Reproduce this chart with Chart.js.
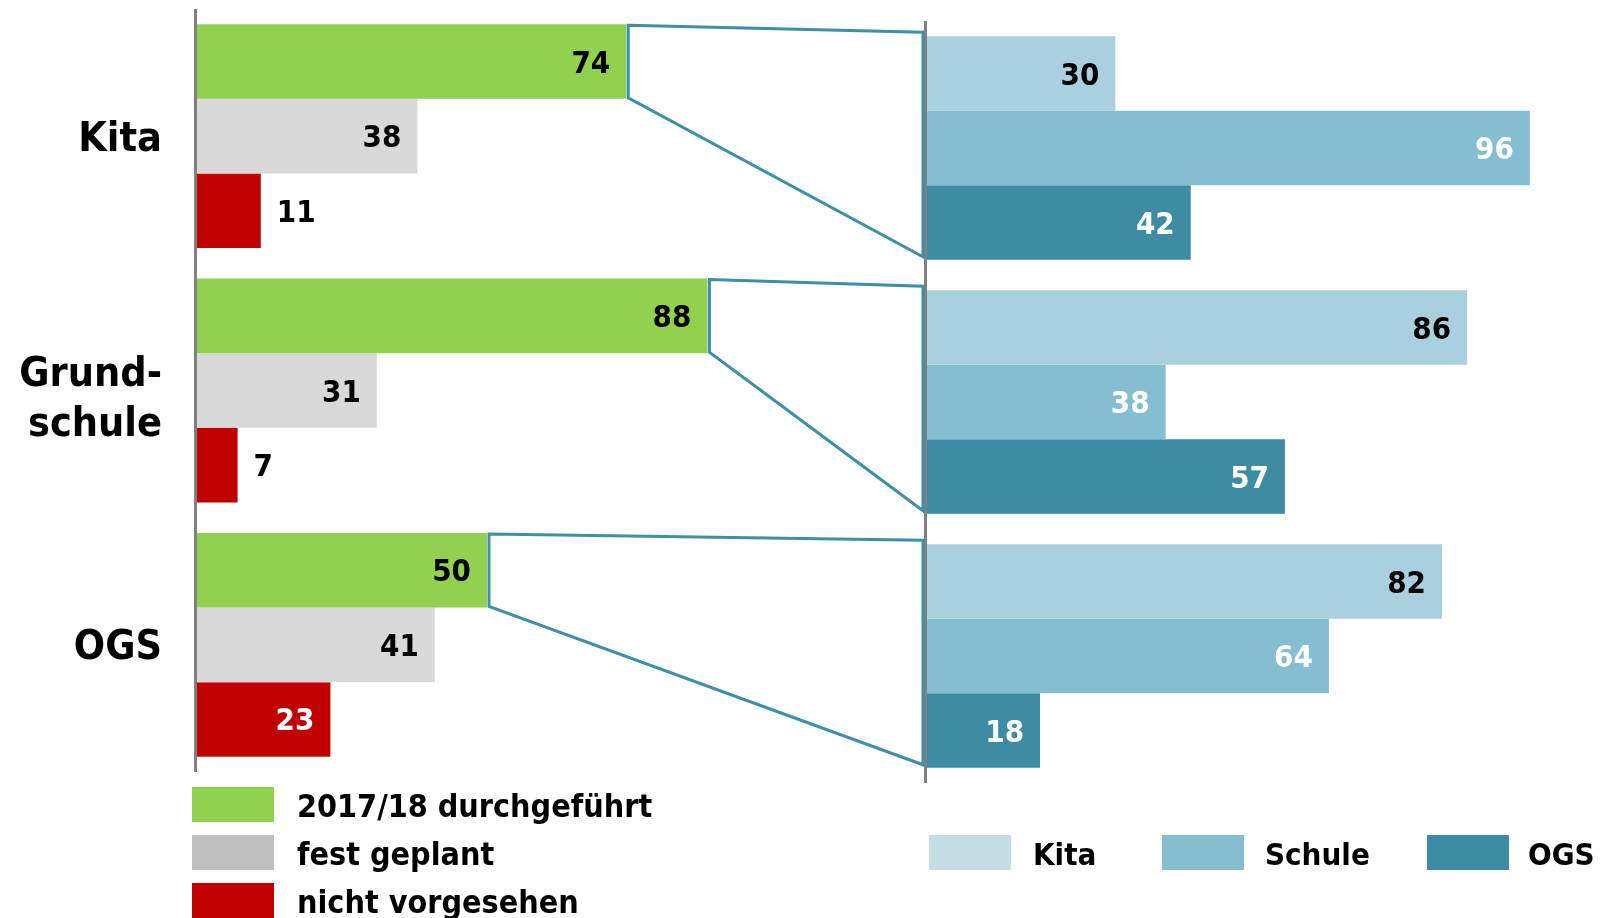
<!DOCTYPE html>
<html>
<head>
<meta charset="utf-8">
<script src="https://cdn.jsdelivr.net/npm/chart.js@4"></script>
<style>
    html, body { margin: 0; padding: 0; background: #fff; }
    #wrap {
        position: relative; width: 1601px; height: 918px; overflow: hidden;
        font-family: 'DejaVu Sans Condensed', 'DejaVu Sans', sans-serif; font-weight: bold;
    }
    #wrap canvas { position: absolute; }
    .sw { position: absolute; width: 82px; height: 35px; }
    .lt { position: absolute; font-size: 31px; line-height: 35px; white-space: nowrap; color: #000; }
</style>
</head>
<body>
<div id="wrap">
    <canvas id="leftChart" width="777" height="763" style="left:0;top:9px"></canvas>
    <canvas id="rightChart" width="633" height="762" style="left:922px;top:21px"></canvas>
    <canvas id="overlay" width="1601" height="918" style="left:0;top:0;pointer-events:none"></canvas>
</div>
<script>
// categories (left axis)
const categories = ['Kita', ['Grund-', 'schule'], 'OGS'];

// left chart: status
const statusNames = ['2017/18 durchgeführt', 'fest geplant', 'nicht vorgesehen'];
const done = [74, 88, 50];
const planned = [38, 31, 41];
const notPlanned = [11, 7, 23];

// right chart: breakdown of "durchgeführt"
const partnerNames = ['Kita', 'Schule', 'OGS'];
const partnerKita = [30, 86, 82];
const partnerSchule = [96, 38, 64];
const partnerOgs = [42, 57, 18];

const statusColors = ['#92D050', '#D9D9D9', '#C00000'];
const statusSwatches = ['#92D050', '#BFBFBF', '#C00000'];
const partnerColors = ['#AACFDE', '#85BED1', '#3D8CA3'];
const partnerSwatches = ['#C5DEE6', '#85BED1', '#3D8CA3'];
const FONT = '"DejaVu Sans Condensed", "DejaVu Sans", sans-serif';

// value labels at the bar end, moved outside when the bar is too short
const valueLabels = {
    id: 'valueLabels',
    afterDatasetsDraw(chart, args, opts) {
        const ctx = chart.ctx;
        ctx.save();
        ctx.font = 'bold 31px ' + FONT;
        ctx.textBaseline = 'middle';
        chart.data.datasets.forEach((ds, di) => {
            chart.getDatasetMeta(di).data.forEach((bar, i) => {
                const txt = String(ds.data[i]);
                const w = ctx.measureText(txt).width;
                if (bar.x - bar.base > w + 34) {
                    ctx.textAlign = 'right';
                    ctx.fillStyle = opts.inside[di];
                    ctx.fillText(txt, bar.x - 16, bar.y + 3);
                } else {
                    ctx.textAlign = 'left';
                    ctx.fillStyle = '#000';
                    ctx.fillText(txt, bar.x + 16, bar.y + 3);
                }
            });
        });
        ctx.restore();
    }
};

// grey vertical base line
const axisLine = {
    id: 'axisLine',
    afterDatasetsDraw(chart) {
        const a = chart.chartArea, ctx = chart.ctx;
        ctx.save();
        ctx.strokeStyle = '#808080';
        ctx.lineWidth = 3;
        ctx.beginPath();
        ctx.moveTo(a.left - 1.5, a.top);
        ctx.lineTo(a.left - 1.5, a.bottom);
        ctx.stroke();
        ctx.restore();
    }
};

// big category names left of the axis
const categoryLabels = {
    id: 'categoryLabels',
    afterDraw(chart) {
        const ctx = chart.ctx, y = chart.scales.y;
        ctx.save();
        ctx.font = 'bold 41px ' + FONT;
        ctx.textAlign = 'right';
        ctx.textBaseline = 'middle';
        ctx.fillStyle = '#000';
        chart.data.labels.forEach((lab, i) => {
            const lines = Array.isArray(lab) ? lab : [lab];
            const cy = y.getPixelForValue(i) + (lines.length > 1 ? 10 : 4);
            lines.forEach((ln, k) => {
                ctx.fillText(ln, 162, cy + (k - (lines.length - 1) / 2) * 50);
            });
        });
        ctx.restore();
    }
};

function baseOptions(padLeft, insideColors) {
    return {
        indexAxis: 'y',
        responsive: false,
        animation: false,
        layout: { padding: { left: padLeft } },
        scales: {
            x: { display: false, min: 0, max: 100 },
            y: { display: false }
        },
        datasets: { bar: { categoryPercentage: 0.88, barPercentage: 1 } },
        plugins: {
            legend: { display: false },
            tooltip: { enabled: false },
            valueLabels: { inside: insideColors }
        }
    };
}

const leftChart = new Chart(document.getElementById('leftChart'), {
    type: 'bar',
    data: {
        labels: categories,
        datasets: [
            { label: statusNames[0], data: done, backgroundColor: statusColors[0] },
            { label: statusNames[1], data: planned, backgroundColor: statusColors[1] },
            { label: statusNames[2], data: notPlanned, backgroundColor: statusColors[2] }
        ]
    },
    options: baseOptions(197, ['#000', '#000', '#fff']),
    plugins: [valueLabels, axisLine, categoryLabels]
});

const rightChart = new Chart(document.getElementById('rightChart'), {
    type: 'bar',
    data: {
        labels: categories,
        datasets: [
            { label: partnerNames[0], data: partnerKita, backgroundColor: partnerColors[0] },
            { label: partnerNames[1], data: partnerSchule, backgroundColor: partnerColors[1] },
            { label: partnerNames[2], data: partnerOgs, backgroundColor: partnerColors[2] }
        ]
    },
    options: baseOptions(5, ['#000', '#fff', '#fff']),
    plugins: [valueLabels, axisLine]
});

// connector shapes from each green bar to its breakdown group
function drawConnectors() {
    const ctx = document.getElementById('overlay').getContext('2d');
    const lc = leftChart.canvas, rc = rightChart.canvas;
    const lx = lc.offsetLeft, ly = lc.offsetTop, rx = rc.offsetLeft, ry = rc.offsetTop;
    const green = leftChart.getDatasetMeta(0).data;
    const rTop = rightChart.getDatasetMeta(0).data;
    const rBot = rightChart.getDatasetMeta(2).data;
    const xr = rx + rightChart.chartArea.left - 4;
    ctx.strokeStyle = '#3F8FA6';
    ctx.lineWidth = 3;
    green.forEach((bar, i) => {
        const x0 = lx + bar.x + 2;
        const t0 = ly + bar.y - bar.height / 2 + 1;
        const b0 = ly + bar.y + bar.height / 2 - 1;
        const t1 = ry + rTop[i].y - rTop[i].height / 2 - 4;
        const b1 = ry + rBot[i].y + rBot[i].height / 2 - 3;
        ctx.beginPath();
        ctx.moveTo(x0, t0);
        ctx.lineTo(xr, t1);
        ctx.lineTo(xr, b1);
        ctx.lineTo(x0, b0);
        ctx.closePath();
        ctx.stroke();
    });
}
drawConnectors();

// legends
const wrap = document.getElementById('wrap');
function addItem(color, text, sx, sy, tx, size) {
    const s = document.createElement('div');
    s.className = 'sw';
    s.style.left = sx + 'px';
    s.style.top = sy + 'px';
    s.style.background = color;
    wrap.appendChild(s);
    const t = document.createElement('div');
    t.className = 'lt';
    t.style.left = tx + 'px';
    t.style.top = (sy + 2) + 'px';
    t.style.fontSize = size + 'px';
    t.textContent = text;
    wrap.appendChild(t);
}
statusNames.forEach((n, i) => addItem(statusSwatches[i], n, 192, 787 + 48 * i, 297, 32));
const rSwX = [929, 1162, 1427];
const rTxX = [1033, 1265, 1528];
partnerNames.forEach((n, i) => addItem(partnerSwatches[i], n, rSwX[i], 835, rTxX[i], 31));
</script>
</body>
</html>
